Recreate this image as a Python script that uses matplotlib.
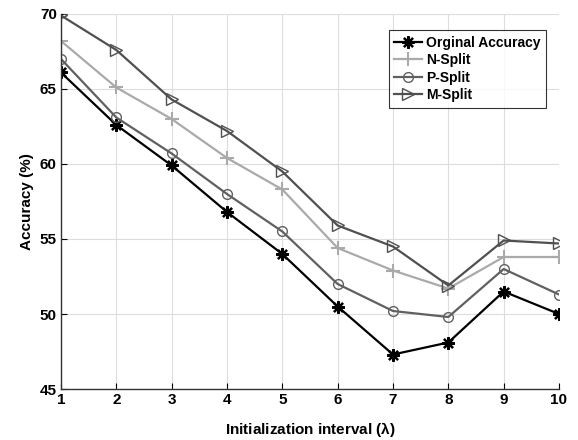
import matplotlib
matplotlib.use('Agg')
import matplotlib.pyplot as plt

plt.rcParams['font.family'] = ['Liberation Sans', 'DejaVu Sans']
plt.rcParams['font.weight'] = 'bold'
plt.rcParams['axes.labelweight'] = 'bold'
plt.rcParams['mathtext.fontset'] = 'cm'

interval = [1, 2, 3, 4, 5, 6, 7, 8, 9, 10]
original = [66.1, 62.6, 59.9, 56.8, 54.0, 50.5, 47.3, 48.1, 51.5, 50.0]
n_split = [68.2, 65.1, 63.0, 60.4, 58.3, 54.4, 52.9, 51.7, 53.8, 53.8]
p_split = [67.0, 63.1, 60.7, 58.0, 55.5, 52.0, 50.2, 49.8, 53.0, 51.3]
m_split = [69.9, 67.6, 64.3, 62.2, 59.5, 55.9, 54.5, 51.9, 54.9, 54.7]

fig = plt.figure(figsize=(5.78, 4.40), dpi=100)
ax = fig.add_axes([0.1055, 0.1159, 0.8616, 0.8523])

ax.plot(interval, original, color='black', marker=(8, 2, 0), markersize=9, mew=1.6,
        lw=1.6, label='Orginal Accuracy')
ax.plot(interval, n_split, color='#aaaaaa', marker='+', markersize=10, mew=1.5, lw=1.6,
        label='N-Split')
ax.plot(interval, p_split, color='#606060', marker='o', markersize=7, mfc='none', lw=1.6,
        label='P-Split')
ax.plot(interval, m_split, color='#505050', marker='>', markersize=8, mfc='none', lw=1.6,
        label='M-Split')

ax.set_xlim(1, 10)
ax.set_ylim(45, 70)
ax.set_xticks(interval)
ax.set_yticks([45, 50, 55, 60, 65, 70])
ax.grid(True, color='#dddddd', lw=0.8)
ax.tick_params(labelsize=11, direction='in', length=4, pad=3)
for s in ['top', 'right']:
    ax.spines[s].set_visible(False)
for s in ['left', 'bottom']:
    ax.spines[s].set_color('#333333')
    ax.spines[s].set_linewidth(1.0)

ax.set_xlabel(r'Initialization interval ($\mathregular{\lambda}$)', fontsize=11, labelpad=9)
ax.set_ylabel('Accuracy (%)', fontsize=11, labelpad=4)

leg = ax.legend(loc='upper right', bbox_to_anchor=(0.988, 0.975), fontsize=10,
                frameon=True, fancybox=False, edgecolor='black', handlelength=2.0,
                borderpad=0.4, labelspacing=0.25, handletextpad=0.3)
leg.get_frame().set_linewidth(0.8)

plt.savefig('out.png', dpi=100)
